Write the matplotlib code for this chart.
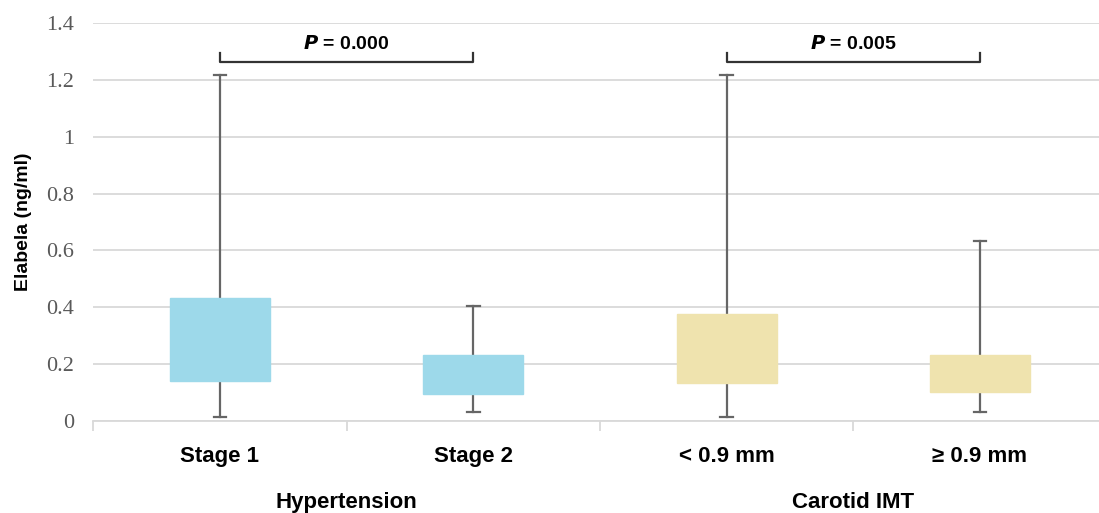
import matplotlib.pyplot as plt
import matplotlib.transforms as mtransforms

categories = ['Stage 1', 'Stage 2', '< 0.9 mm', '\u2265 0.9 mm']
groups = ['Hypertension', 'Carotid IMT']
whis_lo = [0.013, 0.031, 0.013, 0.031]
q1 = [0.141, 0.095, 0.134, 0.101]
q3 = [0.434, 0.231, 0.375, 0.231]
whis_hi = [1.217, 0.405, 1.217, 0.633]
box_colors = ['#9DD9EA', '#9DD9EA', '#EFE3AE', '#EFE3AE']
p_labels = ['0.000', '0.005']
p_pairs = [(0, 1), (2, 3)]

fig = plt.figure(figsize=(10.99, 5.13), dpi=100)
ax = fig.add_axes([0.0849, 0.1793, 0.922, 0.7759])

stats = []
for i in range(len(categories)):
    stats.append({'med': q1[i], 'q1': q1[i], 'q3': q3[i],
                  'whislo': whis_lo[i], 'whishi': whis_hi[i], 'fliers': []})

bp = ax.bxp(stats, positions=range(len(categories)), widths=0.395,
            patch_artist=True, showfliers=False, capwidths=0.05,
            whiskerprops=dict(color='#666666', lw=1.6),
            capprops=dict(color='#666666', lw=1.6),
            medianprops=dict(visible=False), zorder=3)
for patch, c in zip(bp['boxes'], box_colors):
    patch.set_facecolor(c)
    patch.set_edgecolor(c)
    patch.set_zorder(4)

ax.set_xlim(-0.5, 3.5)
ax.set_ylim(0, 1.4)
ax.set_yticks([0, 0.2, 0.4, 0.6, 0.8, 1.0, 1.2, 1.4])
ax.set_yticklabels(['0', '0.2', '0.4', '0.6', '0.8', '1', '1.2', '1.4'],
                   family='Liberation Serif', fontsize=16, color='#595959')
ax.yaxis.grid(True, color='#d9d9d9', lw=1.3)
ax.set_axisbelow(True)
ax.tick_params(axis='y', length=0, pad=14)

ax.set_xticks(range(len(categories)))
ax.set_xticklabels(categories, fontsize=16, fontweight='bold',
                   family='Liberation Sans')
ax.set_xticks([-0.5, 0.5, 1.5, 2.5, 3.5], minor=True)
ax.tick_params(axis='x', which='major', length=0, pad=18)
ax.tick_params(axis='x', which='minor', length=7, color='#d9d9d9', width=1.3)

for s in ['top', 'right', 'left']:
    ax.spines[s].set_visible(False)
ax.spines['bottom'].set_color('#d9d9d9')
ax.spines['bottom'].set_linewidth(1.3)

ax.set_ylabel('Elabela (ng/ml)', fontsize=14, fontweight='bold',
              family='Liberation Sans', labelpad=10)

trans = mtransforms.blended_transform_factory(ax.transData, ax.transAxes)
for g, x in zip(groups, [0.5, 2.5]):
    ax.text(x, -0.205, g, transform=trans, ha='center', va='center',
            fontsize=16, fontweight='bold', family='Liberation Sans')

for (a, b), p in zip(p_pairs, p_labels):
    ax.plot([a, a, b, b], [1.294, 1.264, 1.264, 1.294], color='#333333', lw=1.6,
            clip_on=False)
    ax.text((a + b) / 2, 1.325, r'$\bfit{P}$' + ' = ' + p, ha='center',
            va='center', fontsize=14, fontweight='bold', family='Liberation Sans')

fig.savefig('out.png', dpi=100)
